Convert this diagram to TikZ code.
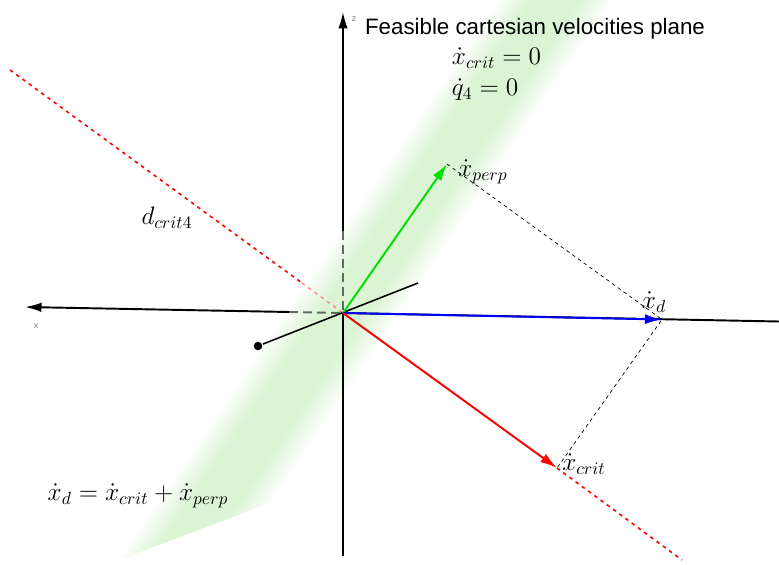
\documentclass[tikz,border=0pt]{standalone}
\usepackage{fontspec}
\newfontfamily\labelsans{Liberation Sans}
\usetikzlibrary{arrows.meta}
\definecolor{cred}{HTML}{FF0000}
\definecolor{cgreen}{HTML}{00E000}
\definecolor{cblue}{HTML}{0000FF}
\definecolor{cback}{HTML}{5E6B5E}
\definecolor{cplane}{HTML}{8CDC78}
\tikzset{
  every picture/.style={line width=1.1pt},
  axisline/.style={draw=black, -{Latex[length=3.3mm, width=1.9mm]}},
  hidden/.style={draw=cback, dash pattern=on 5pt off 3pt},
  vec/.style={draw=#1, -{Latex[length=3.4mm, width=2mm]}},
  proj/.style={draw=black, line width=0.4pt, dash pattern=on 2pt off 2pt},
  crit/.style={draw=#1, line width=0.9pt, dash pattern=on 2pt off 2.4pt},
  lab/.style={font=\Large, inner sep=0pt},
  axlab/.style={font=\labelsans\fontsize{5}{6}\selectfont, text=gray, inner sep=0pt},
  plane/.style={fill=cplane, fill opacity=0.033, draw=none},
}

\begin{document}
\begin{tikzpicture}[x=0.02cm, y=-0.02cm]
  \useasboundingbox (0,0) rectangle (779,565);
  \begin{scope}
    \clip (119,560) -- (270,503) -- (615,-5) -- (503,-5) -- cycle;
    \foreach \w in {57,54,...,24}
      \fill[plane] (559.2-\w,-5) -- (559.2+\w,-5) -- (147.8+\w,600) -- (147.8-\w,600) -- cycle;
  \end{scope}
  \coordinate (O) at (343,313);
  \coordinate (xneg) at (25,307);
  \coordinate (xhid) at (289,312);
  \coordinate (xpos) at (779,321.5);
  \coordinate (ztop) at (343,12);
  \coordinate (zhid) at (343,231);
  \coordinate (zbot) at (343,556);
  \coordinate (yend) at (418,283);
  \coordinate (rtop) at (10,70);
  \coordinate (rhid) at (302,283);
  \coordinate (rbot) at (682,560);
  \coordinate (perp) at (447,164);
  \coordinate (xd) at (662,319.5);
  \coordinate (crit) at (557,468);
  \node[circle, fill, inner sep=0pt, minimum size=0.17cm] (ydot) at (258,346) {};
  \draw[crit=cred] (rtop) -- (rhid);
  \draw[crit=cred!45] (rhid) -- (O);
  \draw[crit=cred] (crit) -- (rbot);
  \draw[hidden] (xhid) -- (O);
  \draw[hidden] (zhid) -- (O);
  \draw[axisline] (xhid) -- (xneg);
  \draw[axisline] (zhid) -- (ztop);
  \draw (O) -- (zbot);
  \draw (O) -- (xpos);
  \draw[line width=0.9pt] (ydot) -- (yend);
  \draw[proj] (perp) -- (xd) -- (crit);
  \foreach \t/\c in {perp/cgreen, xd/cblue, crit/cred} \draw[vec=\c] (O) -- (\t);
  \node[lab] (lperp) at (483,172) {$\dot x_{perp}$};
  \node[lab] (lxd) at (654,302) {$\dot x_d$};
  \node[lab] (lcrit) at (584,464) {$\dot x_{crit}$};
  \node[lab] (ldcrit) at (167,218) {$d_{crit4}$};
  \node[font=\labelsans\fontsize{12.7}{15}\selectfont] (title) at (535,29) {Feasible cartesian velocities plane};
  \node[lab, anchor=west] (eqcrit) at (451,58) {$\dot x_{crit} = 0$};
  \node[lab, anchor=west] (eqq) at (451,90) {$\dot q_4 = 0$};
  \node[lab] (sum) at (138,496) {$\dot x_d = \dot x_{crit} + \dot x_{perp}$};
  \node[axlab] (lx) at (36,326) {x};
  \node[axlab] (lz) at (354,19) {z};
\end{tikzpicture}
\end{document}
